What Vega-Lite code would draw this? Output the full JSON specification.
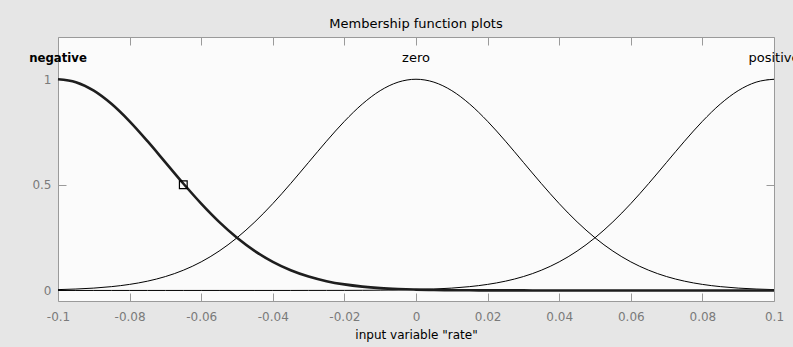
{
  "$schema": "https://vega.github.io/schema/vega-lite/v6.json",
  "width": 716,
  "height": 264,
  "autosize": {"type": "none"},
  "padding": {"left": 58, "top": 37, "right": 19, "bottom": 46},
  "background": "#e6e6e6",
  "title": {"text": "Membership function plots", "font": "DejaVu Sans", "fontSize": 13, "fontWeight": "normal", "color": "#000000", "anchor": "middle", "baseline": "bottom", "offset": -7},
  "config": {
    "view": {"fill": "#fbfbfb", "stroke": "#9a9a9a", "strokeWidth": 1},
    "axis": {"domain": false, "grid": false, "labelFont": "DejaVu Sans", "labelFontSize": 12, "labelColor": "#7a7a7a", "tickColor": "#9a9a9a", "tickSize": -8, "labelFlush": false, "labelExpr": "'' + datum.value", "titleFont": "DejaVu Sans", "titleFontSize": 12, "titleFontWeight": "normal", "titleColor": "#000000"}
  },
  "datasets": {
    "mf": [
      {"x": -0.1, "negative": 1, "zero": 0.0039, "positive": 0},
      {"x": -0.095, "negative": 0.9862, "zero": 0.0067, "positive": 0},
      {"x": -0.09, "negative": 0.946, "zero": 0.0111, "positive": 0},
      {"x": -0.085, "negative": 0.8825, "zero": 0.0181, "positive": 0},
      {"x": -0.08, "negative": 0.8007, "zero": 0.0286, "positive": 0},
      {"x": -0.075, "negative": 0.7066, "zero": 0.0439, "positive": 0},
      {"x": -0.07, "negative": 0.6065, "zero": 0.0657, "positive": 0},
      {"x": -0.065, "negative": 0.5063, "zero": 0.0956, "positive": 0},
      {"x": -0.06, "negative": 0.4111, "zero": 0.1353, "positive": 0},
      {"x": -0.055, "negative": 0.3247, "zero": 0.1863, "positive": 0},
      {"x": -0.05, "negative": 0.2494, "zero": 0.2494, "positive": 0},
      {"x": -0.045, "negative": 0.1863, "zero": 0.3247, "positive": 0},
      {"x": -0.04, "negative": 0.1353, "zero": 0.4111, "positive": 0},
      {"x": -0.035, "negative": 0.0956, "zero": 0.5063, "positive": 0},
      {"x": -0.03, "negative": 0.0657, "zero": 0.6065, "positive": 0.0001},
      {"x": -0.025, "negative": 0.0439, "zero": 0.7066, "positive": 0.0002},
      {"x": -0.02, "negative": 0.0286, "zero": 0.8007, "positive": 0.0003},
      {"x": -0.015, "negative": 0.0181, "zero": 0.8825, "positive": 0.0006},
      {"x": -0.01, "negative": 0.0111, "zero": 0.946, "positive": 0.0012},
      {"x": -0.005, "negative": 0.0067, "zero": 0.9862, "positive": 0.0022},
      {"x": 0, "negative": 0.0039, "zero": 1, "positive": 0.0039},
      {"x": 0.005, "negative": 0.0022, "zero": 0.9862, "positive": 0.0067},
      {"x": 0.01, "negative": 0.0012, "zero": 0.946, "positive": 0.0111},
      {"x": 0.015, "negative": 0.0006, "zero": 0.8825, "positive": 0.0181},
      {"x": 0.02, "negative": 0.0003, "zero": 0.8007, "positive": 0.0286},
      {"x": 0.025, "negative": 0.0002, "zero": 0.7066, "positive": 0.0439},
      {"x": 0.03, "negative": 0.0001, "zero": 0.6065, "positive": 0.0657},
      {"x": 0.035, "negative": 0, "zero": 0.5063, "positive": 0.0956},
      {"x": 0.04, "negative": 0, "zero": 0.4111, "positive": 0.1353},
      {"x": 0.045, "negative": 0, "zero": 0.3247, "positive": 0.1863},
      {"x": 0.05, "negative": 0, "zero": 0.2494, "positive": 0.2494},
      {"x": 0.055, "negative": 0, "zero": 0.1863, "positive": 0.3247},
      {"x": 0.06, "negative": 0, "zero": 0.1353, "positive": 0.4111},
      {"x": 0.065, "negative": 0, "zero": 0.0956, "positive": 0.5063},
      {"x": 0.07, "negative": 0, "zero": 0.0657, "positive": 0.6065},
      {"x": 0.075, "negative": 0, "zero": 0.0439, "positive": 0.7066},
      {"x": 0.08, "negative": 0, "zero": 0.0286, "positive": 0.8007},
      {"x": 0.085, "negative": 0, "zero": 0.0181, "positive": 0.8825},
      {"x": 0.09, "negative": 0, "zero": 0.0111, "positive": 0.946},
      {"x": 0.095, "negative": 0, "zero": 0.0067, "positive": 0.9862},
      {"x": 0.1, "negative": 0, "zero": 0.0039, "positive": 1}
    ],
    "labels": [
      {"name": "negative", "center": -0.1, "selected": true},
      {"name": "zero", "center": 0, "selected": false},
      {"name": "positive", "center": 0.1, "selected": false}
    ],
    "marker": [
      {"x": -0.065, "y": 0.5}
    ]
  },
  "resolve": {"axis": {"x": "independent", "y": "independent"}},
  "layer": [
    {
      "data": {"name": "mf"},
      "transform": [{"fold": ["zero", "positive"], "as": ["mf", "value"]}],
      "mark": {"type": "line", "color": "#000000", "strokeWidth": 1, "interpolate": "monotone"},
      "encoding": {
        "x": {"field": "x", "type": "quantitative", "scale": {"domain": [-0.1, 0.1], "nice": false, "zero": false},
              "axis": {"orient": "bottom", "values": [-0.1, -0.08, -0.06, -0.04, -0.02, 0, 0.02, 0.04, 0.06, 0.08, 0.1], "labelPadding": 18, "title": "input variable \"rate\"", "titlePadding": 7}},
        "y": {"field": "value", "type": "quantitative", "scale": {"domain": [-0.05, 1.2], "nice": false, "zero": false},
              "axis": {"orient": "left", "values": [0, 0.5, 1], "labelPadding": 15, "title": null}},
        "detail": {"field": "mf"}
      }
    },
    {
      "data": {"name": "mf"},
      "mark": {"type": "line", "color": "#1e1e1e", "strokeWidth": 2.6, "interpolate": "monotone"},
      "encoding": {
        "x": {"field": "x", "type": "quantitative", "axis": {"orient": "top", "values": [-0.1, -0.08, -0.06, -0.04, -0.02, 0, 0.02, 0.04, 0.06, 0.08, 0.1], "labels": false, "title": null}},
        "y": {"field": "negative", "type": "quantitative", "axis": {"orient": "right", "values": [0, 0.5, 1], "labels": false, "title": null}}
      }
    },
    {
      "data": {"name": "marker"},
      "mark": {"type": "point", "shape": "square", "size": 60, "filled": false, "color": "#000000", "strokeWidth": 1.2, "opacity": 1},
      "encoding": {
        "x": {"field": "x", "type": "quantitative", "axis": null},
        "y": {"field": "y", "type": "quantitative", "axis": null}
      }
    },
    {
      "data": {"name": "labels"},
      "transform": [{"filter": "!datum.selected"}],
      "mark": {"type": "text", "font": "DejaVu Sans", "fontSize": 13, "fontWeight": "normal", "baseline": "alphabetic", "align": "center", "color": "#000000"},
      "encoding": {
        "x": {"field": "center", "type": "quantitative", "axis": null},
        "y": {"datum": 1.08, "type": "quantitative", "axis": null},
        "text": {"field": "name"}
      }
    },
    {
      "data": {"name": "labels"},
      "transform": [{"filter": "datum.selected"}],
      "mark": {"type": "text", "font": "DejaVu Sans Condensed", "fontSize": 13, "fontWeight": "bold", "baseline": "alphabetic", "align": "center", "color": "#000000"},
      "encoding": {
        "x": {"field": "center", "type": "quantitative", "axis": null},
        "y": {"datum": 1.08, "type": "quantitative", "axis": null},
        "text": {"field": "name"}
      }
    }
  ]
}
